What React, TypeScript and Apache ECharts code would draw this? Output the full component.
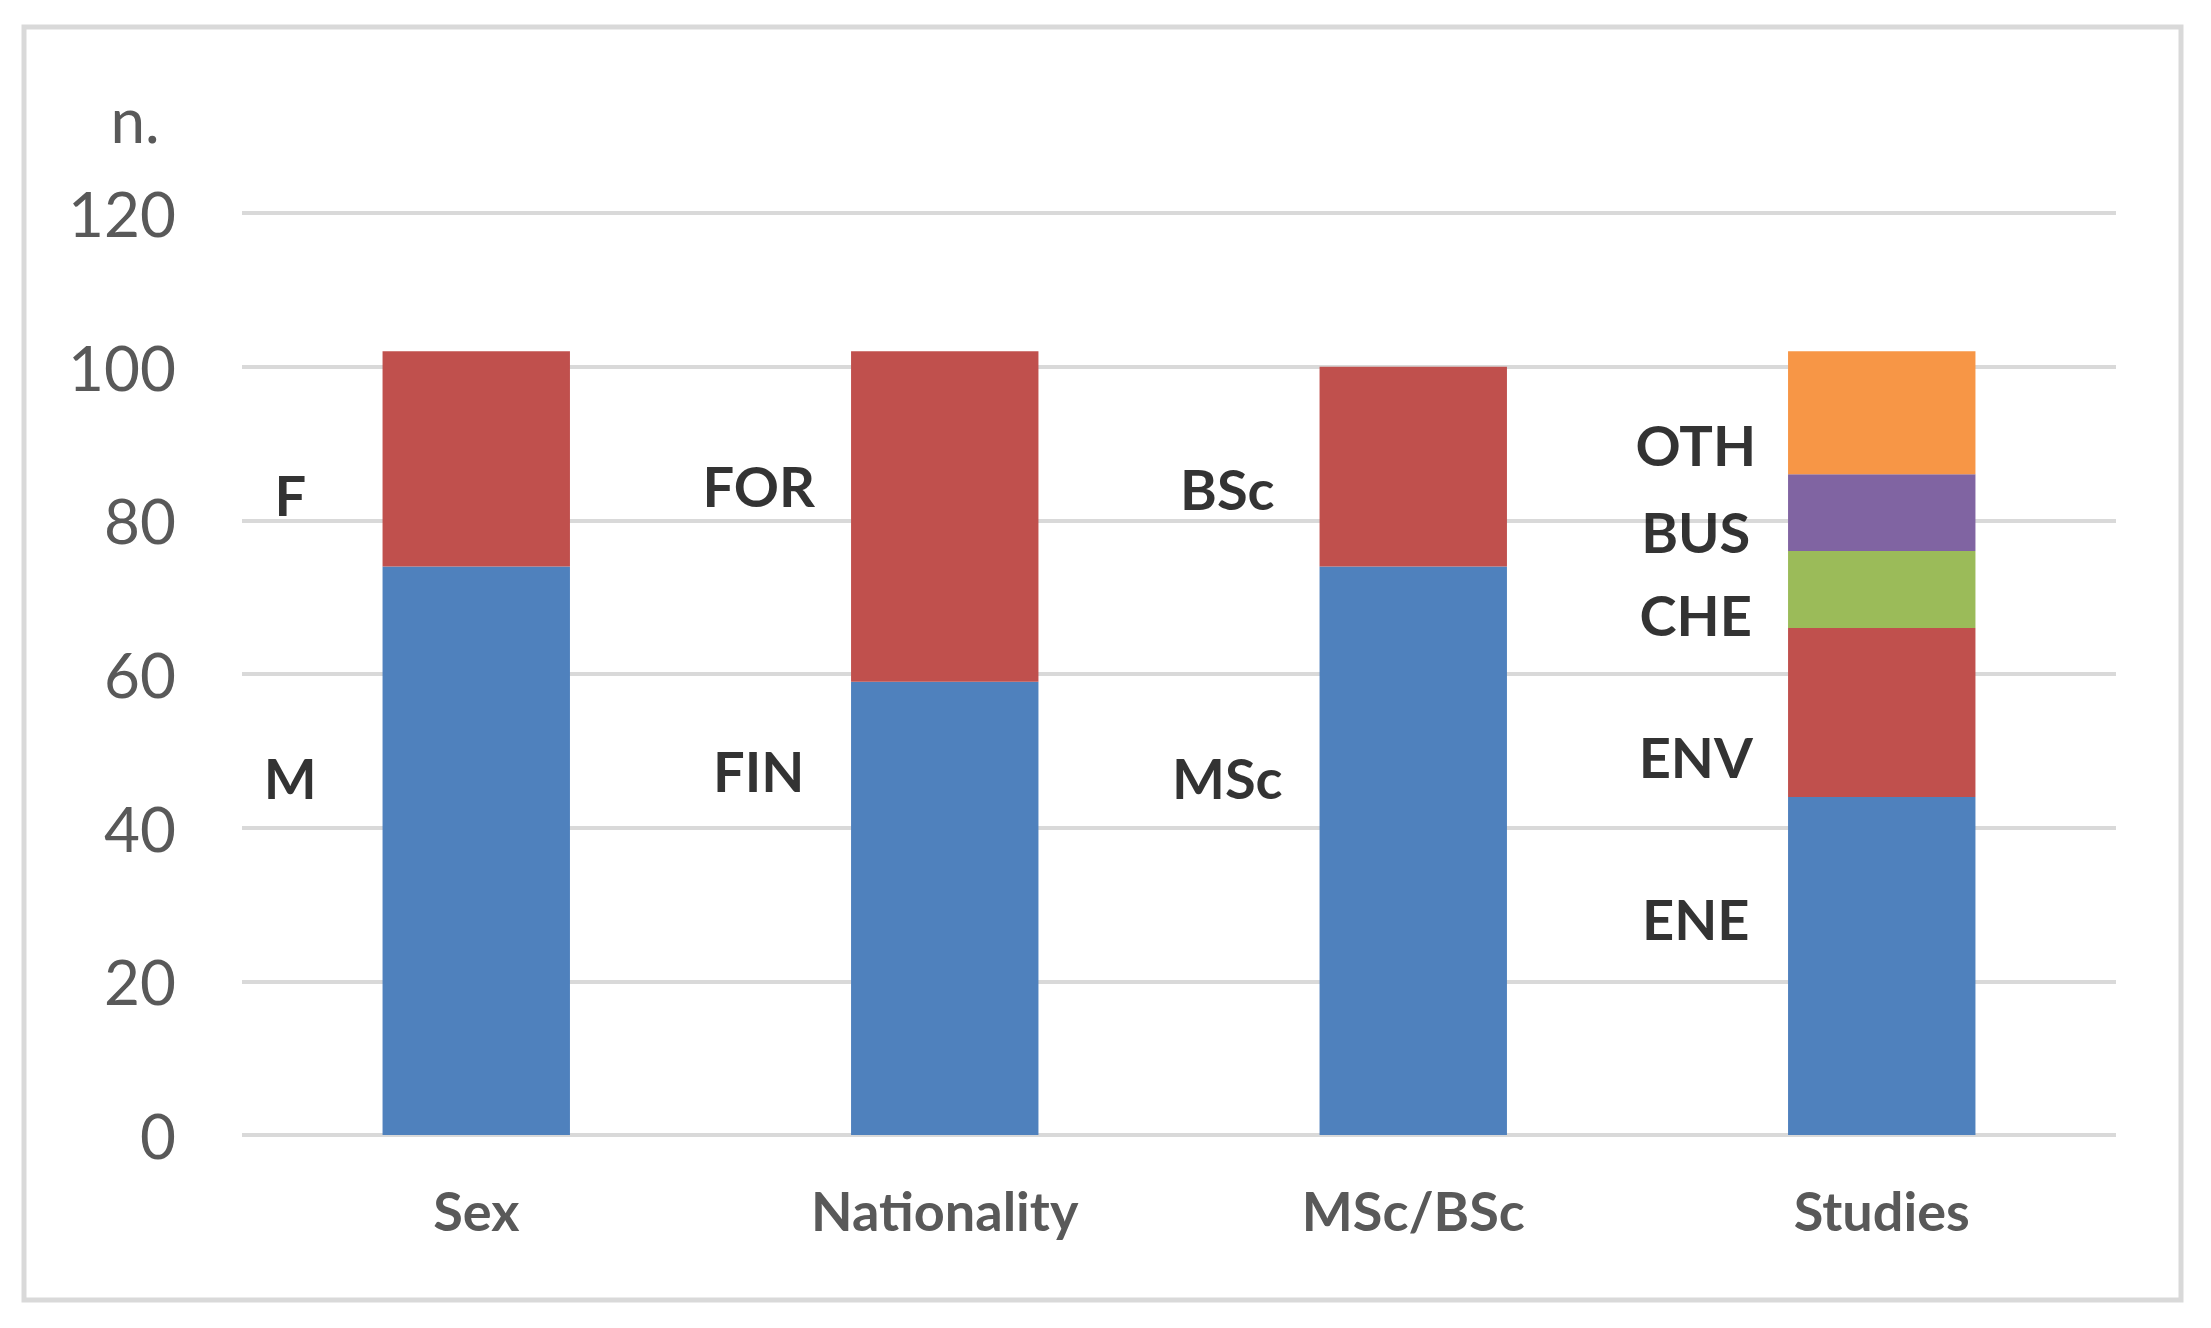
import React, { useEffect, useRef } from "react";
import * as echarts from "echarts";

const categories = ["Sex", "Nationality", "MSc/BSc", "Studies"];
const yTicks = { min: 0, max: 120, interval: 20 };

// stacked segments (bottom to top)
const segBlue = [74, 59, 74, 44]; // M, FIN, MSc, ENE
const segRed = [28, 43, 26, 22]; // F, FOR, BSc, ENV
const segGreen = [null, null, null, 10]; // CHE
const segPurple = [null, null, null, 10]; // BUS
const segOrange = [null, null, null, 16]; // OTH

// annotation labels beside each bar (category, anchor value on y axis, text)
const labelCats = ["Sex", "Sex", "Nationality", "Nationality", "MSc/BSc", "MSc/BSc", "Studies", "Studies", "Studies", "Studies", "Studies"];
const labelTexts = ["M", "F", "FIN", "FOR", "MSc", "BSc", "ENE", "ENV", "CHE", "BUS", "OTH"];
const labelValues = [46.5, 83.4, 47.4, 84.5, 46.5, 84.1, 28.2, 49.2, 67.7, 78.5, 89.9];

const FONT = "Lato, 'Open Sans', sans-serif";

export default function App() {
  const ref = useRef<HTMLDivElement>(null);

  useEffect(() => {
    if (!ref.current) return;
    const chart = echarts.init(ref.current, null, { renderer: "svg" });

    const mkBar = (name: string, data: (number | null)[], color: string) => ({
      name,
      type: "bar",
      stack: "total",
      data,
      barWidth: "40%",
      itemStyle: { color },
      silent: true,
    });

    chart.setOption({
      animation: false,
      backgroundColor: "#ffffff",
      textStyle: { fontFamily: FONT },
      grid: { left: 242, right: 95, top: 213, bottom: 193, containLabel: false },
      xAxis: {
        type: "category",
        data: categories,
        axisLine: { show: false },
        axisTick: { show: false },
        axisLabel: {
          color: "#595959",
          fontSize: 54,
          fontWeight: "bold",
          fontFamily: FONT,
          margin: 48,
        },
      },
      yAxis: {
        type: "value",
        min: yTicks.min,
        max: yTicks.max,
        interval: yTicks.interval,
        axisLine: { show: false },
        axisTick: { show: false },
        axisLabel: {
          color: "#595959",
          fontSize: 62,
          fontFamily: FONT,
          margin: 66,
        },
        splitLine: { lineStyle: { color: "#d9d9d9", width: 4 } },
      },
      graphic: [
        {
          type: "rect",
          shape: { x: 24, y: 27, width: 2157, height: 1273 },
          style: { fill: "none", stroke: "#d9d9d9", lineWidth: 5 },
          silent: true,
        },
        {
          type: "text",
          x: 135,
          y: 119,
          style: {
            text: "n.",
            fill: "#595959",
            fontSize: 62,
            fontFamily: FONT,
            textAlign: "center",
            textVerticalAlign: "middle",
          },
          silent: true,
        },
      ],
      series: [
        mkBar("ENE", segBlue, "#4F81BD"),
        mkBar("ENV", segRed, "#C0504D"),
        mkBar("CHE", segGreen, "#9BBB59"),
        mkBar("BUS", segPurple, "#8064A2"),
        mkBar("OTH", segOrange, "#F79646"),
        {
          type: "scatter",
          silent: true,
          symbolSize: 1,
          itemStyle: { color: "rgba(0,0,0,0)" },
          data: labelTexts.map((t, i) => ({
            value: [labelCats[i], labelValues[i]],
            label: { formatter: t },
          })),
          label: {
            show: true,
            position: "inside",
            offset: [-186, 0],
            color: "#000000",
            fontSize: 56,
            fontWeight: "bold",
            fontFamily: FONT,
          },
          z: 10,
        },
      ],
    });

    return () => chart.dispose();
  }, []);

  return (
    <div
      ref={ref}
      style={{ position: "absolute", left: 0, top: 0, width: 2211, height: 1328, background: "#fff" }}
    />
  );
}
